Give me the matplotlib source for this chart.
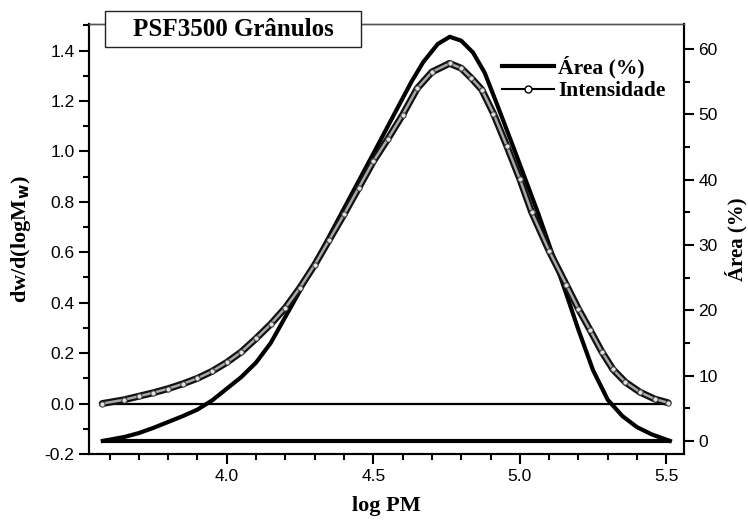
import matplotlib
matplotlib.use("Agg")
import matplotlib.pyplot as plt
from matplotlib.patches import Rectangle
from matplotlib.ticker import MultipleLocator

# Intensidade (left axis)
x_int = [3.575, 3.65, 3.7, 3.75, 3.8, 3.85, 3.9, 3.95, 4.0, 4.05, 4.1, 4.15,
         4.2, 4.25, 4.3, 4.35, 4.4, 4.45, 4.5, 4.55, 4.6, 4.65, 4.7, 4.76,
         4.8, 4.835, 4.87, 4.91, 4.956, 5.0, 5.04, 5.1, 5.159, 5.2, 5.239,
         5.28, 5.318, 5.36, 5.41, 5.46, 5.506]
intens = [0.0, 0.015, 0.029, 0.043, 0.059, 0.078, 0.10, 0.128, 0.163, 0.205,
          0.258, 0.315, 0.38, 0.46, 0.55, 0.65, 0.75, 0.855, 0.96, 1.05, 1.145,
          1.25, 1.315, 1.349, 1.33, 1.29, 1.245, 1.15, 1.02, 0.89, 0.76, 0.605,
          0.47, 0.375, 0.293, 0.205, 0.135, 0.085, 0.045, 0.018, 0.003]

# Area (%) (right axis)
x_area = [3.577, 3.65, 3.7, 3.75, 3.8, 3.85, 3.9, 3.95, 4.0, 4.05, 4.1, 4.15,
          4.2, 4.25, 4.3, 4.4, 4.5, 4.585, 4.63, 4.67, 4.72, 4.761, 4.8, 4.84,
          4.88, 4.92, 4.977, 5.063, 5.154, 5.2, 5.25, 5.3, 5.35, 5.4, 5.45, 5.512]
area = [0, 0.6, 1.2, 2.0, 2.9, 3.8, 4.8, 6.2, 8.0, 9.8, 12.0, 15.0, 19.0, 23.0,
        27.2, 35.6, 44.0, 51.2, 55.0, 58.0, 60.8, 61.9, 61.3, 59.5, 56.4, 51.8,
        45.1, 34.8, 23.1, 17.0, 10.8, 6.3, 3.8, 2.1, 1.0, 0]

serif = "Liberation Serif"
plt.rcParams["font.family"] = "Liberation Sans"

fig = plt.figure(figsize=(7.48, 5.23), dpi=100)
ax = fig.add_axes([0.119, 0.132, 0.7954, 0.822])
ax2 = ax.twinx()

# baselines
ax.hlines(0, x_int[0], x_int[-1], color="k", lw=1.6, zorder=2)
ax2.hlines(0, x_area[0], x_area[-1], color="k", lw=3, zorder=2)

ax2.plot(x_area, area, color="k", lw=3, zorder=3, solid_joinstyle="round")
ax.plot(x_int, intens, color="#111111", lw=5, zorder=3, solid_capstyle="round",
        solid_joinstyle="round")
ax.plot(x_int, intens, color="#a8a8a8", lw=1.8, zorder=4, solid_capstyle="round",
        solid_joinstyle="round")
ax.plot(x_int, intens, ls="none", marker="o", ms=3.8, mfc="#e0e0e0", mec="#333333",
        mew=0.7, zorder=5)

ax.set_xlim(3.53, 5.56)
ax.set_ylim(-0.2, 1.505)
ax2.set_ylim(-2, 63.85)

ax.xaxis.set_major_locator(MultipleLocator(0.5))
ax.xaxis.set_minor_locator(MultipleLocator(0.1))
ax.yaxis.set_major_locator(MultipleLocator(0.2))
ax.yaxis.set_minor_locator(MultipleLocator(0.1))
ax2.yaxis.set_major_locator(MultipleLocator(10))
ax2.yaxis.set_minor_locator(MultipleLocator(5))
ax.xaxis.set_major_formatter(plt.FormatStrFormatter("%.1f"))
ax.yaxis.set_major_formatter(plt.FormatStrFormatter("%.1f"))

for a in (ax, ax2):
    a.tick_params(which="major", direction="out", length=7, width=1.5, labelsize=12.5)
    a.tick_params(which="minor", direction="out", length=4.5, width=1.5)
    for s in a.spines.values():
        s.set_linewidth(1.5)
    a.spines["top"].set_linewidth(1.0)
    a.spines["top"].set_color("#555555")
ax.tick_params(top=False, which="both")
ax2.tick_params(top=False, which="both")

ax.set_xlabel("log PM", fontfamily=serif, fontweight="bold", fontsize=16, labelpad=9)
ax.set_ylabel("dw/d(logM$_\\mathbf{w}$)", fontfamily=serif, fontweight="bold",
              fontsize=16, labelpad=8)
ax2.set_ylabel("Área (%)", fontfamily=serif, fontweight="bold", fontsize=15,
               labelpad=5)

# title box
W, H = 748.0, 523.0
box = Rectangle((105 / W, 1 - 47.3 / H), 256 / W, 36.6 / H, transform=fig.transFigure,
                fc="white", ec="#222222", lw=1.0, zorder=20)
fig.patches.append(box)
fig.text(233 / W, 1 - 29 / H, "PSF3500 Grânulos", ha="center", va="center",
         fontfamily=serif, fontweight="bold", fontsize=18, zorder=21)

h1, = ax.plot([], [], color="k", lw=3)
h2, = ax.plot([], [], color="k", lw=1.5, marker="o", ms=5, mfc="white", mec="k")
leg = ax.legend([h1, h2], ["Área (%)", "Intensidade"], loc="upper left",
                bbox_to_anchor=(0.68, 0.945), frameon=False,
                prop=dict(family=serif, weight="bold", size=15.5),
                handlelength=2.4, handletextpad=0.2, labelspacing=0.12,
                borderaxespad=0)
leg.set_zorder(10)
ax.set_zorder(ax2.get_zorder() + 1)
ax.patch.set_visible(False)

fig.savefig("out.png", dpi=100)
